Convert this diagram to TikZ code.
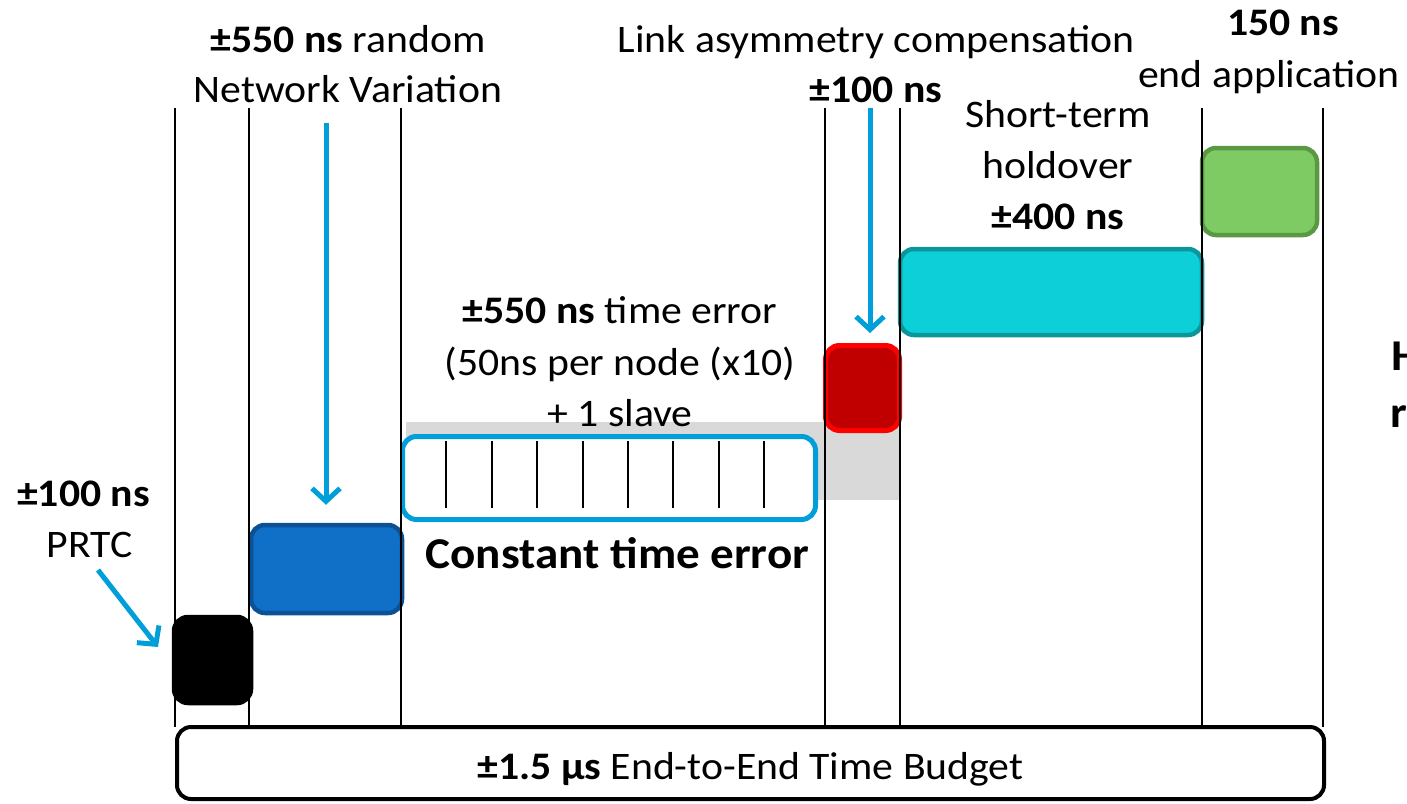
\documentclass[tikz,border=0pt]{standalone}
\usepackage{fontspec}
\setmainfont[FakeStretch=1.07]{Carlito}
\usetikzlibrary{arrows.meta}
\definecolor{abl}{RGB}{0,159,218}
\definecolor{bluefill}{RGB}{16,112,200}
\definecolor{blueedge}{RGB}{12,80,150}
\definecolor{cyanfill}{RGB}{12,207,215}
\definecolor{cyanedge}{RGB}{10,150,154}
\definecolor{greenfill}{RGB}{126,203,99}
\definecolor{greenedge}{RGB}{90,153,68}
\definecolor{redfill}{RGB}{192,0,0}
\definecolor{rededge}{RGB}{255,0,0}
\definecolor{shadegray}{RGB}{217,217,217}
\begin{document}
\begin{tikzpicture}[x=1pt,y=-1pt,
  lbl/.style={inner sep=0pt, anchor=base, font=\fontsize{39}{46}\selectfont},
  blbl/.style={inner sep=0pt, anchor=base, font=\fontsize{39}{46}\selectfont\bfseries},
  vline/.style={black, line width=1.3pt},
  boxst/.style={rounded corners=14pt, line width=4.5pt, inner sep=0pt},
  tick/.style={black, line width=1.4pt},
  arr/.style={abl, line width=5pt, -{Straight Barb[length=13pt,width=28pt]}},
]
\useasboundingbox (0,0) rectangle (1407,803);
\clip (0,0) rectangle (1407,803);

% grey shading behind constant error box
\node[fill=shadegray, inner sep=0pt, minimum width=494pt, minimum height=78pt, anchor=north west] (shade) at (406,422) {};

% boxes
\node[boxst, fill=black, draw=black, minimum width=77pt, minimum height=86pt] (prtc) at (212.5,660) {};
\node[boxst, fill=bluefill, draw=blueedge, minimum width=151pt, minimum height=88pt] (blue) at (326.5,569) {};
\node[boxst, fill=white, draw=abl, line width=5pt, minimum width=413pt, minimum height=83pt] (cte) at (609,478) {};
\node[boxst, fill=redfill, draw=rededge, line width=5pt, minimum width=74pt, minimum height=85pt] (red) at (862.5,388) {};
\node[boxst, fill=cyanfill, draw=cyanedge, minimum width=302pt, minimum height=86pt] (cyan) at (1051,292) {};
\node[boxst, fill=greenfill, draw=greenedge, minimum width=115pt, minimum height=87pt] (green) at (1259.5,191.5) {};

% ticks in constant error box
\foreach \tx in {446,492,537,583,628,673,719,764}
  \draw[tick] (\tx,441) -- (\tx,508);

% vertical lines
\foreach \vx in {175,249,401,825,900,1202,1323}
  \draw[vline] (\vx,108) -- (\vx,727);

% budget box
\node[boxst, fill=white, draw=black, line width=4pt, minimum width=1147pt, minimum height=72pt] (budget) at (750.5,763) {};
\node[lbl] (budgettxt) at (750.5,779) {\textbf{±1.5 μs} End-to-End Time Budget};

% arrows
\coordinate (prtcA) at (98,570);
\coordinate (prtcB) at (158,647);
\draw[arr] (prtcA) -- (prtcB);
\coordinate (nvA) at (326,123);
\draw[arr] (nvA) -- ([yshift=18pt]nvA |- blue.north);
\coordinate (lkA) at (870,108);
\draw[arr] (lkA) -- ([yshift=10pt]lkA |- red.north);

% labels
\node[lbl] (nv1) at (348,52) {\textbf{±550 ns} random};
\node[lbl] (nv2) at (348,102) {Network Variation};
\node[lbl] (lac) at (876,52) {Link asymmetry compensation};
\node[blbl] (lacv) at (876,102) {±100 ns};
\node[lbl] (st1) at (1058,127) {Short-term};
\node[lbl] (st2) at (1058,178) {holdover};
\node[blbl] (st3) at (1058,229) {±400 ns};
\node[blbl] (ea1) at (1283,35) {150 ns};
\node[lbl, anchor=base west] (ea2) at (1138,87) {end application};
\node[lbl] (te1) at (620,323) {\textbf{±550 ns} time error};
\node[lbl] (te2) at (620,375) {(50ns per node (x10)};
\node[lbl] (te3) at (620,426) {+ 1 slave};
\node[blbl, font=\fontsize{44}{52}\selectfont\bfseries] (ctel) at (617.5,568) {Constant time error};
\node[blbl] (prtcv) at (83.5,506) {±100 ns};
\node[lbl] (prtcl) at (89.5,557) {PRTC};
\node[blbl, anchor=base west, font=\fontsize{44}{52}\selectfont\bfseries] (h1) at (1391,370) {H};
\node[blbl, anchor=base west, font=\fontsize{44}{52}\selectfont\bfseries] (h2) at (1390,427) {re};
\end{tikzpicture}
\end{document}
